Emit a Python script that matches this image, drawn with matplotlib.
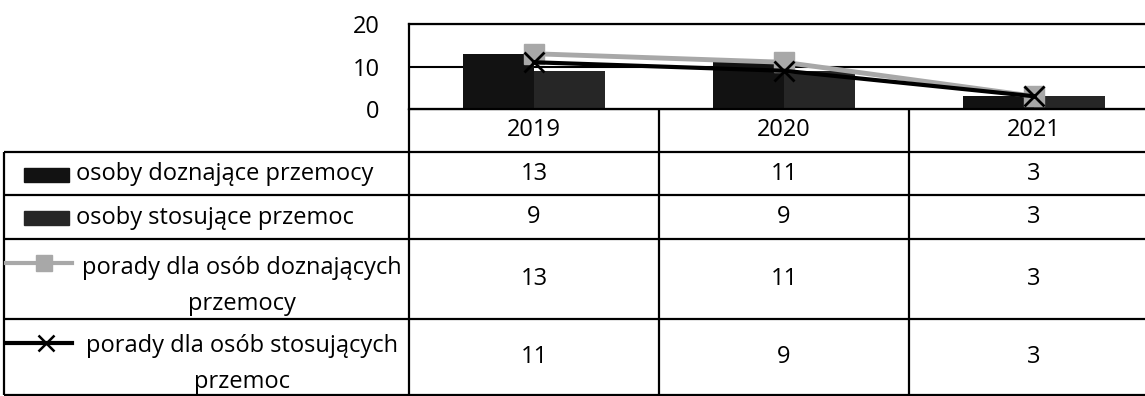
import numpy as np
import matplotlib
matplotlib.use("Agg")
import matplotlib.pyplot as plt
from matplotlib.patches import Rectangle

plt.rcParams['font.family'] = ['Open Sans', 'DejaVu Sans']

# --- data
years = ['2019', '2020', '2021']
names = ['osoby doznające przemocy',
         'osoby stosujące przemoc',
         'porady dla osób doznających\nprzemocy',
         'porady dla osób stosujących\nprzemoc']
doznajace = [13, 11, 3]
stosujace = [9, 9, 3]
porady_doz = [13, 11, 3]
porady_sto = [11, 9, 3]
y_ticks = [0, 10, 20]

W, H = 1145, 396
fs = 17
bar_cols = ['#121212', '#262626']
gray = '#a8a8a8'

fig = plt.figure(figsize=(W / 100, H / 100), dpi=100)

# overlay in pixel coords for the data table
tab = fig.add_axes([0, 0, 1, 1])
tab.set_xlim(0, W)
tab.set_ylim(H, 0)
tab.axis('off')

x_left, x_plot = 4, 409
col_w = 250
x_right = x_plot + col_w * len(years)
row_lines = [109, 152, 195, 239, 319, 395]

# table grid
lw = 1.6
tab.hlines(row_lines[0], x_plot, x_right, color='black', lw=lw)
tab.hlines(row_lines[1:], x_left, x_right, color='black', lw=lw)
tab.vlines(x_left, row_lines[1], row_lines[-1], color='black', lw=lw)
for i in range(len(years)):
    tab.vlines(x_plot + col_w * i, row_lines[0], row_lines[-1], color='black', lw=lw)

# header row
for i, yr in enumerate(years):
    tab.text(x_plot + col_w * (i + 0.5), (row_lines[0] + row_lines[1]) / 2, yr,
             ha='center', va='center', fontsize=fs)

# data rows
values = [doznajace, stosujace, porady_doz, porady_sto]
for r, (name, vals) in enumerate(zip(names, values)):
    yc = (row_lines[r + 1] + row_lines[r + 2]) / 2
    for i, v in enumerate(vals):
        tab.text(x_plot + col_w * (i + 0.5), yc, str(v), ha='center', va='center', fontsize=fs)
    if r < 2:
        tab.add_patch(Rectangle((24, yc - 6), 45, 14, color=bar_cols[r]))
        tab.text(76, yc + 1, name, ha='left', va='center', fontsize=fs)
    else:
        ky = row_lines[r + 1] + 24
        if r == 2:
            tab.plot([6, 72], [ky, ky], color=gray, lw=3)
            tab.plot([44], [ky], marker='s', ms=11.5, color=gray)
        else:
            tab.plot([6, 72], [ky, ky], color='black', lw=3)
            tab.plot([46], [ky], marker='x', ms=12, mew=1.8, color='black')
        tab.text(242, yc + 7, name, ha='center', va='center', fontsize=fs,
                 multialignment='center', linespacing=1.65)

# chart area
ax = fig.add_axes([x_plot / W, 1 - row_lines[0] / H, (x_right - x_plot) / W, 85 / H])
x = np.arange(len(years))
bw = 0.284
ax.bar(x - bw / 2, doznajace, bw, color=bar_cols[0], zorder=2)
ax.bar(x + bw / 2, stosujace, bw, color=bar_cols[1], zorder=2)
ax.plot(x, porady_doz, color=gray, lw=3.5, marker='s', ms=14, zorder=3)
ax.plot(x, porady_sto, color='black', lw=3, marker='x', ms=14, mew=2, zorder=4)
ax.set_xlim(-0.5, len(years) - 0.5)
ax.set_ylim(0, 20)
ax.set_yticks(y_ticks)
ax.set_yticklabels([str(t) for t in y_ticks], fontsize=fs)
ax.tick_params(axis='y', length=0, pad=21)
ax.set_xticks([])
ax.grid(axis='y', color='black', lw=1.5, zorder=1)
for s in ax.spines.values():
    s.set_linewidth(1.6)

fig.savefig('out.png', dpi=100)
